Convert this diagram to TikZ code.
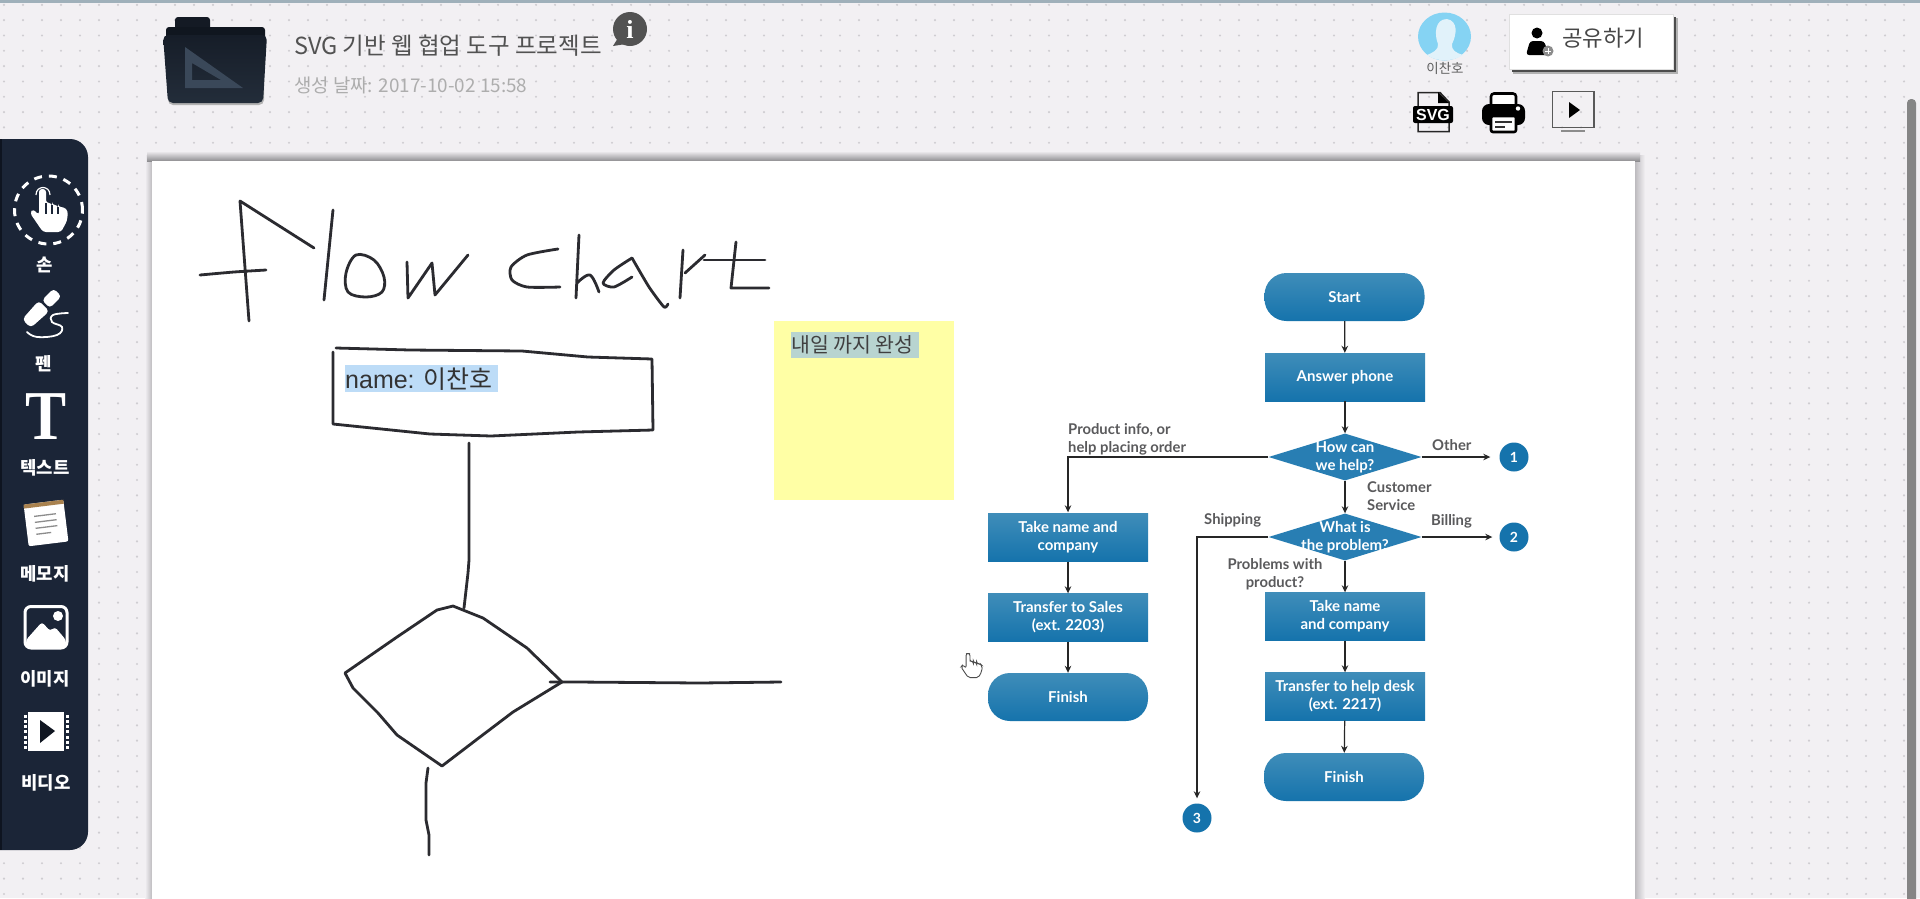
\documentclass[tikz,border=0pt]{standalone}
\usepackage{fontspec}
\usetikzlibrary{shapes.geometric,arrows.meta}
\newfontfamily\kr{Noto Sans CJK KR}
\newfontfamily\lat{Liberation Sans}
\newfontfamily\ser{Liberation Serif}
\newfontfamily\flowf{Lato}
\definecolor{pagebg}{HTML}{F2F0F3}
\definecolor{griddot}{HTML}{CFCDD1}
\definecolor{navy}{HTML}{1B2537}
\definecolor{ink}{HTML}{2B2B30}
\definecolor{flowtop}{HTML}{3F8DB9}
\definecolor{flowbot}{HTML}{1573AC}
\definecolor{flowtext}{HTML}{5A5A5C}
\definecolor{topbar}{HTML}{9FB0BA}
\definecolor{foldtab}{HTML}{141A24}
\definecolor{foldback}{HTML}{10161F}
\definecolor{foldtop}{HTML}{161D28}
\definecolor{foldbot}{HTML}{232D3A}
\definecolor{foldtri}{HTML}{3A4859}
\definecolor{avblue}{HTML}{85D3F3}
\definecolor{avlight}{HTML}{E1F2FA}
\definecolor{toolstrip}{HTML}{0E1420}
\definecolor{memobrown}{HTML}{A9824F}
\definecolor{namehl}{HTML}{BDDCF7}
\definecolor{stickybg}{HTML}{FFFFA5}
\definecolor{stickyhl}{HTML}{B8D4D0}
\definecolor{shadowtop}{HTML}{8E8D90}
\definecolor{shadowside}{HTML}{BDBBBF}
\tikzset{
  handink/.style={draw=ink,line width=2.8pt,line cap=round,line join=round},
  flowbox/.style={rectangle,shade,top color=flowtop,bottom color=flowbot,minimum width=160pt,minimum height=48pt,inner sep=0pt,
     text=white,align=center,font=\flowf\bfseries\fontsize{15}{18}\selectfont},
  flowend/.style={flowbox,rounded corners=22pt},
  flowdia/.style={diamond,fill=flowbot!92!white,minimum width=153pt,minimum height=47pt,aspect=3.25,inner sep=0pt},
  flowdiatext/.style={text=white,align=center,inner sep=0pt,font=\flowf\bfseries\fontsize{15}{18}\selectfont},
  flowarrow/.style={draw=black!85,line width=1.2pt,-{Stealth[length=7pt,width=6.5pt]}},
  flowlabel/.style={text=flowtext,align=left,inner sep=0pt,font=\flowf\bfseries\fontsize{14.8}{18}\selectfont},
  flowcirc/.style={circle,fill=flowbot,text=white,minimum size=29pt,inner sep=0pt,font=\flowf\bfseries\fontsize{14}{14}\selectfont},
  toollabel/.style={text=white,inner sep=0pt,font=\kr\bfseries\fontsize{17.8}{20}\selectfont},
}
\newcommand{\handfigure}{(9,1) -- (16,1) -- (16,15) -- (22,15) -- (22,17) -- (28,17) -- (28,19) -- (34,19) -- (38,23) -- (37,33) -- (31,44) -- (13,44) -- (0,25) -- (3,21) -- (9,27) -- cycle}
\begin{document}
\begin{tikzpicture}[x=1pt,y=-1pt]
\useasboundingbox (0,0) rectangle (1920,898);
\clip (0,0) rectangle (1920,898);
% page and dot grid
\fill[pagebg] (0,0) rectangle (1920,898);
\foreach \i in {0,...,101}{\foreach \j in {0,...,58}{
  \fill[griddot] ({4+19*\i},{4.8+15.33*\j}) circle (1.2pt);
}}
\fill[topbar] (0,0) rectangle (1920,3) ;
% scrollbar
\fill[black!48,rounded corners=4pt] (1907,99) rectangle (1916,920);
% canvas with shadow
\shade[left color=pagebg,right color=shadowside] (145,155) rectangle (152,920);
\shade[left color=shadowside,right color=pagebg] (1635,155) rectangle (1645,920);
\shade[top color=pagebg,bottom color=shadowtop] (147,151) rectangle (1640,161);
\fill[white] (152,161) rectangle (1635,920);
% folder
\fill[foldtab,rounded corners=3pt] (175,17) rectangle (210,40);
\fill[foldback,rounded corners=3pt] (166,27) rectangle (265,60);
\fill[black!30,rounded corners=5pt] (168,40) rectangle (264,105);
\shade[top color=foldtop,bottom color=foldbot,rounded corners=5pt] (163,35) -- (267,35) -- (263,103) -- (168,103) -- cycle;
\fill[foldtri,even odd rule] (185,47) -- (243,88) -- (185,88) -- cycle (192,63) -- (192,80) -- (221,80) -- cycle;
% project title
\node[inner sep=0pt,anchor=west,text=black!68,font=\kr\fontsize{23.5}{26}\selectfont] (title) at (294,46) {SVG 기반 웹 협업 도구 프로젝트};
\node[inner sep=0pt,anchor=west,text=black!32,font=\kr\fontsize{18.9}{22}\selectfont] (created) at (294,85) {생성 날짜: 2017-10-02 15:58};
\fill[black!68] (630,29) circle (17pt);
\fill[black!68] (618,38) -- (613,46) -- (626,44) -- cycle;
\node[inner sep=0pt,text=white,font=\ser\bfseries\fontsize{26}{26}\selectfont] (info) at (630,29) {i};
% avatar
\fill[avblue] (1444.5,36.5) ellipse (26.5pt and 24pt);
\fill[avlight] (1447,19) .. controls (1435,19) and (1434,34) .. (1438,44) .. controls (1439,50) and (1432,53) .. (1427,55) .. controls (1436,62) and (1453,62) .. (1463,55) .. controls (1456,53) and (1451,50) .. (1452,44) .. controls (1457,34) and (1458,21) .. (1447,19) -- cycle;
\node[inner sep=0pt,text=black!62,font=\kr\fontsize{13.5}{15}\selectfont] (user) at (1445,68) {이찬호};
% share button
\fill[black!30] (1513,18) rectangle (1678,74);
\fill[black!70] (1512,17) rectangle (1676,72);
\node[draw=black!12,fill=white,minimum width=164pt,minimum height=55pt,inner sep=0pt,anchor=north west] (sharebox) at (1509,14) {};
\fill[black] (1537,33) circle (5.5pt);
\fill[black,rounded corners=3pt] (1530,41) -- (1544,41) -- (1549,55) -- (1526,55) -- cycle;
\fill[black!45] (1548,51) circle (5.5pt);
\draw[white,line width=.8pt] (1545,51) -- (1551,51) (1548,48) -- (1548,54);
\node[inner sep=0pt,anchor=west,text=black!72,font=\kr\fontsize{22.3}{26}\selectfont] (share) at (1562,38) {공유하기};
% svg icon
\draw[black!85,line width=1.5pt,fill=none] (1418,110) -- (1418,92.5) -- (1440,92.5) -- (1449,102) -- (1449,110) (1418,122) -- (1418,131.5) -- (1449,131.5) -- (1449,122);
\fill[black] (1438,92) -- (1449,103) -- (1438,103) -- cycle;
\fill[black,rounded corners=2pt] (1413,106) rectangle (1453,123);
\node[inner sep=0pt,text=white,font=\lat\bfseries\fontsize{16}{16}\selectfont] (svg) at (1433,114.5) {SVG};
% printer
\draw[black,line width=2.6pt,fill=white,rounded corners=3pt] (1491,93.5) rectangle (1516,115);
\fill[black,rounded corners=7pt] (1482,104) rectangle (1525,125);
\fill[white] (1518,108.5) circle (2.2pt);
\draw[black,line width=2.6pt,fill=white,rounded corners=2pt] (1491,116) rectangle (1516,132);
\draw[black!80,line width=2pt] (1495,122) -- (1512,122) (1495,127) -- (1505,127);
% presentation icon
\draw[black!65,line width=1.5pt] (1552.5,91.5) rectangle (1594,127.5);
\fill[black] (1569,102) -- (1580,110) -- (1569,118) -- cycle;
\draw[black!45,line width=2pt] (1561,131) -- (1585,131);
% left tool bar
\fill[navy,rounded corners=18pt] (-30,139) rectangle (88,850);
\fill[toolstrip] (0,139) rectangle (2,850);
\draw[white,line width=3pt,dash pattern=on 8pt off 7pt] (48.5,210) circle (34pt);
\begin{scope}[shift={(30,188)}]
  \fill[white,rounded corners=3pt] \handfigure;
  \draw[navy,line width=1.3pt] (22,17) -- (22,26) (28,19) -- (28,26) (16,15) -- (16,26);
\end{scope}
\draw[white,line width=1.2pt] (36,195) .. controls (36,185) and (50,185) .. (50,195);
\node[toollabel] (lhand) at (45,265) {손};
% pen icon
\begin{scope}[shift={(42,308)},rotate=45]
  \fill[white,rounded corners=4pt] (-22,-6) -- (3,-7.5) -- (3,7.5) -- (-22,6) -- cycle;
  \fill[white,rounded corners=3.5pt] (5.5,-5.5) rectangle (22,5.5);
\end{scope}
\draw[white,line width=1.8pt,line cap=round] plot[smooth,tension=.7] coordinates {(68,313) (53,315) (52,322) (62,327) (57,335) (37,337) (27,332)};
\node[toollabel] (lpen) at (44,364) {펜};
% text icon
\node[inner sep=0pt,text=white,xscale=.88,font=\ser\bfseries\fontsize{70}{70}\selectfont] (ticon) at (46,417) {T};
\node[toollabel] (ltext) at (45,468) {텍스트};
% memo icon
\begin{scope}[shift={(46,523)},rotate=7]
  \fill[white,rounded corners=2pt] (-20,-21) rectangle (20,21);
  \fill[memobrown] (-20,-21) rectangle (20,-17);
  \draw[black!45,line width=1.3pt] (-11,-8) -- (11,-8) (-11,-2) -- (11,-2) (-11,4) -- (11,4) (-11,10) -- (4,10);
\end{scope}
\node[toollabel] (lmemo) at (45,574) {메모지};
% image icon
\draw[white,line width=3pt,rounded corners=6pt] (25,606.5) rectangle (67,648);
\fill[white,rounded corners=3pt] (26,640) -- (42,622) -- (50,631) -- (55,627) -- (66,640) -- (66,647) -- (26,647) -- cycle;
\fill[white] (58,616) circle (5pt);
\node[toollabel] (limage) at (45,679) {이미지};
% video icon
\fill[white] (28,712) rectangle (64,751);
\foreach \k in {0,...,6}{
  \fill[white] (23.5,{714.5+5.3*\k}) rectangle (26.5,{717.5+5.3*\k});
  \fill[white] (65.5,{714.5+5.3*\k}) rectangle (68.5,{717.5+5.3*\k});
}
\fill[navy!60!black] (40,720) -- (55,731) -- (40,743) -- cycle;
\node[toollabel] (lvideo) at (46,783) {비디오};
% handwriting: flow chart
\draw[handink] (249,321) -- (240,201) -- (314,248);
\draw[handink] plot[smooth,tension=.4] coordinates {(200,275) (234,272) (266,270)};
\draw[handink] (333,210) -- (324,300);
\draw[handink] plot[smooth cycle,tension=.6] coordinates {(356,255) (346,273) (348,292) (366,297) (382,292) (384,277) (374,260)};
\draw[handink] (407,262) -- (408,298) -- (432,263) -- (435,295) -- (468,255);
\draw[handink] plot[smooth,tension=.45] coordinates {(558,249) (527,255) (511,267) (512,280) (527,287) (560,287)};
\draw[handink] (579,235) -- (576,298);
\draw[handink] plot[smooth,tension=.6] coordinates {(577,283) (590,275) (599,292)};
\draw[handink] plot[smooth,tension=.45] coordinates {(632,258) (614,270) (603,283) (614,287) (632,277)};
\draw[handink] plot[smooth,tension=.35] coordinates {(632,258) (649,287) (664,307) (668,304)};
\draw[handink] (683,250) -- (680,298);
\draw[handink] (685,273) -- (705,255);
\draw[handink] (736,242) -- (731,288) -- (769,288);
\draw[handink] (704,260) -- (765,260);
% handwriting: box
\draw[handink] (336,348) -- (410,350) -- (522,351) -- (588,357) -- (652,359) -- (653,430) -- (578,432) -- (491,436) -- (430,434) -- (333,424) -- (333,352);
\fill[namehl] (345,365) rectangle (498,392);
\node[inner sep=0pt,anchor=west,text=black!80,font=\fontsize{25}{28}\selectfont] (namebox) at (345,379) {\lat name: \kr 이찬호};
% handwriting: lines and diamond
\draw[handink] (469,443) -- (469,560) -- (468,573) -- (464,608);
\draw[handink] (453,606) -- (437,610) -- (397,637) -- (345,673) -- (353,688) -- (378,713) -- (397,735) -- (442,766) -- (480,737) -- (513,712) -- (562,682) -- (527,648) -- (483,618) -- cycle;
\draw[handink] (550,682) -- (577,682) -- (700,683) -- (781,682);
\draw[handink] (428,768) -- (426,783) -- (426,820) -- (429,835) -- (429,855);
% sticky note
\fill[stickybg] (774,321) rectangle (954,500);
\fill[stickyhl] (791,332) rectangle (919,358);
\node[inner sep=0pt,anchor=west,text=black!75,font=\kr\fontsize{20.5}{24}\selectfont] (sticky) at (791,345) {내일 까지 완성};
% pointer
\begin{scope}[shift={(961,653)},scale=.56]
  \draw[black!70,fill=white,line width=.9pt,rounded corners=2pt] \handfigure;
\end{scope}
% flowchart nodes
\node[flowend] (start) at (1344.5,297) {Start};
\node[flowbox] (answer) at (1345,377) {Answer phone};
\node[flowdia] (help) at (1345,457) {};
\node[flowdiatext] (helpt) at (1345,457.5) {How can\\we help?};
\node[flowdia] (problem) at (1345,537) {};
\node[flowdiatext] (problemt) at (1345,537) {What is\\the problem?};
\node[flowbox] (name1) at (1068,537.5) {Take name and\\company};
\node[flowbox] (sales) at (1068,617.5) {Transfer to Sales\\(ext. 2203)};
\node[flowend] (fin1) at (1068,697) {Finish};
\node[flowbox] (name2) at (1345,616.5) {Take name\\and company};
\node[flowbox] (desk) at (1345,696.5) {Transfer to help desk\\(ext. 2217)};
\node[flowend] (fin2) at (1344,777) {Finish};
\node[flowcirc] (c1) at (1514,457) {1};
\node[flowcirc] (c2) at (1514,537) {2};
\node[flowcirc] (c3) at (1197,818) {3};
% flowchart connectors
\draw[flowarrow] (start) -- (answer);
\draw[flowarrow] (answer) -- (help);
\draw[flowarrow] (help) -- (problem);
\draw[flowarrow] (problem) -- (name2);
\draw[flowarrow] (name2) -- (desk);
\draw[flowarrow] (desk) -- (fin2);
\draw[flowarrow] (name1) -- (sales);
\draw[flowarrow] (sales) -- (fin1);
\draw[flowarrow,shorten >=1pt] (help.west) -| (name1.north);
\draw[flowarrow,shorten >=5pt] (problem.west) -| (c3.north);
\draw[flowarrow,shorten >=9pt] (help.east) -- (c1.west);
\draw[flowarrow,shorten >=7pt] (problem.east) -- (c2.west);
% flowchart labels
\node[flowlabel,anchor=north west] (l1) at (1068,423) {Product info, or\\help placing order};
\node[flowlabel,anchor=west] (l2) at (1432,445) {Other};
\node[flowlabel,anchor=north west] (l3) at (1367,481) {Customer\\Service};
\node[flowlabel,anchor=west] (l4) at (1204,520) {Shipping};
\node[flowlabel,anchor=west] (l5) at (1431,521) {Billing};
\node[flowlabel,align=center] (l6) at (1275,574) {Problems with\\product?};
\end{tikzpicture}
\end{document}
